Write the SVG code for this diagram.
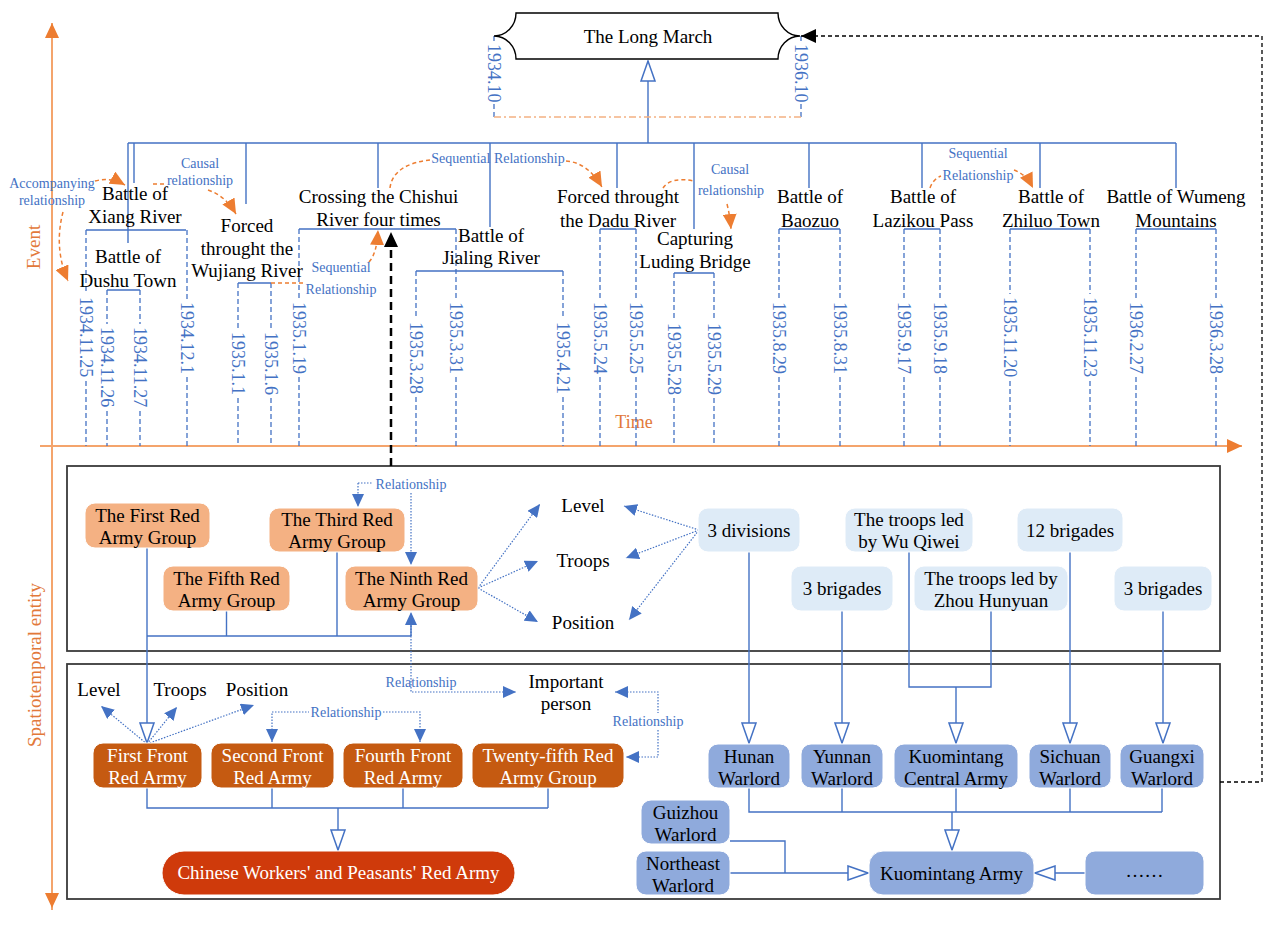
<svg xmlns="http://www.w3.org/2000/svg" width="1264" height="925" viewBox="0 0 1264 925">
<defs>
<style>
text{font-family:"Liberation Serif","Times New Roman",serif}
.ev{font-size:19px;fill:#000;text-anchor:middle}
.rl{font-size:14px;fill:#4472C4;text-anchor:middle}
.dt{font-size:18px;fill:#4472C4;dominant-baseline:central}
.ax{font-size:19px;fill:#E2793A;text-anchor:middle}
.bt{font-size:19px;fill:#000;text-anchor:middle}
.wt{font-size:19px;fill:#fff;text-anchor:middle}
.sl{fill:none;stroke:#4472C4;stroke-width:1.4}
.dl{fill:none;stroke:#4472C4;stroke-width:1.3;stroke-dasharray:5 3}
.dot{fill:none;stroke:#4472C4;stroke-width:1.2;stroke-dasharray:1.5 1.5}
.od{fill:none;stroke:#ED7D31;stroke-width:1.5;stroke-dasharray:4 3}
.bk{fill:none;stroke:#000;stroke-width:1.3;stroke-dasharray:4 3}
.pan{fill:none;stroke:#3a3a3a;stroke-width:1.8}
.o1{fill:#F4B183;stroke:#fff;stroke-width:1}
.lb{fill:#DEEBF7;stroke:#fff;stroke-width:1}
.rd{fill:#C55A11;stroke:#fff;stroke-width:1}
.wl{fill:#8FAADC;stroke:#fff;stroke-width:1}
</style>
<marker id="mo" markerUnits="userSpaceOnUse" viewBox="0 0 15 14" markerWidth="15" markerHeight="14" refX="15" refY="7" orient="auto"><path d="M0,0 L15,7 L0,14 Z" fill="#ED7D31"/></marker>
<marker id="mb" markerUnits="userSpaceOnUse" viewBox="0 0 13 12" markerWidth="13" markerHeight="12" refX="13" refY="6" orient="auto-start-reverse"><path d="M0,0 L13,6 L0,12 Z" fill="#4472C4"/></marker>
<marker id="mh" markerUnits="userSpaceOnUse" viewBox="0 0 22 16" markerWidth="22" markerHeight="16" refX="21" refY="8" orient="auto"><path d="M1,1 L21,8 L1,15 Z" fill="#fff" stroke="#4472C4" stroke-width="1.5"/></marker>
<marker id="mk" markerUnits="userSpaceOnUse" viewBox="0 0 15 14" markerWidth="15" markerHeight="14" refX="15" refY="7" orient="auto"><path d="M0,0 L15,7 L0,14 Z" fill="#000"/></marker>
<marker id="ma" markerUnits="userSpaceOnUse" viewBox="0 0 15 14" markerWidth="15" markerHeight="14" refX="15" refY="7" orient="auto"><path d="M0,0 L15,7 L0,14 Z" fill="#ED7D31"/></marker>
</defs>
<rect width="1264" height="925" fill="#fff"/>

<!-- axes -->
<g id="axes">
<path d="M52,910 V23" stroke="#F4A46C" stroke-width="2" fill="none" marker-end="url(#ma)"/>
<path d="M52,440 V908" stroke="#F4A46C" stroke-width="2" fill="none" marker-end="url(#ma)"/>
<path d="M40,446 H1242" stroke="#F4A46C" stroke-width="2" fill="none" marker-end="url(#ma)"/>
<text class="ax" transform="translate(33,247) rotate(-90)" dominant-baseline="central">Event</text>
<text class="ax" transform="translate(34,665) rotate(-90)" dominant-baseline="central">Spatiotemporal entity</text>
<text class="ax" x="634" y="428" style="font-size:18px">Time</text>
</g>

<!-- panels -->
<rect class="pan" x="67" y="466" width="1153" height="185"/>
<rect class="pan" x="67" y="664" width="1153" height="235"/>

<!-- connectors -->
<g id="connectors">
<!-- event tree -->
<path class="sl" d="M128,143 H1176 M128,143 V243 M134,143 V183 M246,143 V204 M378,143 V188 M490,143 V227 M617,143 V188 M694,143 V229 M809,143 V188 M922,143 V188 M1040,143 V188 M1176,143 V188"/>
<path class="sl" d="M648,143 V61" stroke-width="1.8" marker-end="url(#mh)"/>
<!-- brackets -->
<path class="sl" d="M86,230 H186 M107,290 H140 M238,283 H271 M299,229 H456 M416,271 H563 M600,229 H636 M674,273 H714 M779,229 H840 M904,229 H940 M1010,229 H1090 M1136,229 H1216"/>
<!-- date dashed lines -->
<path class="dl" d="M86,230 V294 M86,381 V446 M107,290 V324 M107,411 V446 M140,290 V324 M140,411 V446 M187,230 V299 M187,377 V446 M238,283 V329 M238,398 V446 M271,283 V329 M271,398 V446 M299,229 V299 M299,377 V446 M416,271 V319 M416,397 V446 M456,229 V299 M456,377 V446 M563,271 V319 M563,397 V446 M600,229 V299 M600,377 V446 M636,229 V299 M636,377 V446 M674,273 V320 M674,398 V446 M714,273 V320 M714,398 V446 M779,229 V299 M779,377 V446 M840,229 V299 M840,377 V446 M904,229 V299 M904,377 V446 M940,229 V299 M940,377 V446 M1010,229 V294 M1010,381 V446 M1090,229 V294 M1090,381 V446 M1136,229 V299 M1136,377 V446 M1216,229 V299 M1216,377 V446"/>
<path class="dl" d="M494,36 V43 M494,104 V117 M801,36 V43 M801,104 V117"/>
<path d="M494,117 H801" fill="none" stroke="#F4B183" stroke-width="1.5" stroke-dasharray="7 3 2 3"/>
<!-- orange relationship arrows -->
<path class="od" d="M95,181 C106,178 116,180 125,185" marker-end="url(#mo)"/>
<path class="od" d="M63,212 C57,235 58,258 68,281" marker-end="url(#mo)"/>
<path class="od" d="M153,184 H166"/>
<path class="od" d="M208,190 C220,194 229,202 236,214" marker-end="url(#mo)"/>
<path class="od" d="M271,283 H303"/>
<path class="od" d="M369,262 C375,255 377,246 378,230" marker-end="url(#mo)"/>
<path class="od" d="M390,188 C392,170 410,162 430,160"/>
<path class="od" d="M566,161 C580,162 592,170 602,187" marker-end="url(#mo)"/>
<path class="od" d="M663,188 C668,180 680,178 694,181"/>
<path class="od" d="M727,204 C729,212 730,218 731,229" marker-end="url(#mo)"/>
<path class="od" d="M930,188 C932,182 936,178 941,176"/>
<path class="od" d="M1014,170 C1022,173 1028,178 1033,188" marker-end="url(#mo)"/>
<!-- black dashed -->
<path d="M391,466 V232" fill="none" stroke="#000" stroke-width="2.5" stroke-dasharray="8 5" marker-end="url(#mk)"/>
<path class="bk" d="M1220,782 H1262 V36 H801" marker-end="url(#mk)"/>
<!-- panel 1 solid -->
<path class="sl" d="M147,636 H411 M226.5,611 V636 M337,552 V636 M411,636 V624"/>
<path class="sl" d="M147,548 V743" stroke-width="1.8" marker-end="url(#mh)"/>
<!-- panel 1 dotted -->
<path class="dot" d="M358,483 H373"/>
<path class="dot" d="M358,483 V507" marker-end="url(#mb)"/>
<path class="dot" d="M411,493 V565" marker-end="url(#mb)"/>
<path class="dot" d="M411,636 V612" marker-end="url(#mb)"/>
<path class="dot" d="M411,636 V692 H516" marker-end="url(#mb)"/>
<path class="dot" d="M478,588 L540,504" marker-end="url(#mb)"/>
<path class="dot" d="M478,588 L538,561" marker-end="url(#mb)"/>
<path class="dot" d="M478,588 L538,622" marker-end="url(#mb)"/>
<path class="dot" d="M699,530 L624,506" marker-end="url(#mb)"/>
<path class="dot" d="M699,530 L626,558" marker-end="url(#mb)"/>
<path class="dot" d="M699,530 L629,620" marker-end="url(#mb)"/>
<!-- light blue to warlords -->
<path class="sl" d="M749,552 V743" marker-end="url(#mh)"/>
<path class="sl" d="M842,611 V743" marker-end="url(#mh)"/>
<path class="sl" d="M909,552 V687 H991 V611 M956,687 V743" marker-end="url(#mh)"/>
<path class="sl" d="M1070,552 V743" marker-end="url(#mh)"/>
<path class="sl" d="M1163,611 V743" marker-end="url(#mh)"/>
<!-- warlord tree -->
<path class="sl" d="M749,788 V812 H1162 M842,788 V812 M956,788 V812 M1070,788 V812 M1162,788 V812"/>
<path class="sl" d="M952,812 V850" stroke-width="1.8" marker-end="url(#mh)"/>
<path class="sl" d="M730,841 H785 V873 M730,873 H868" marker-end="url(#mh)"/>
<path class="sl" d="M1085,873 H1035" marker-end="url(#mh)"/>
<!-- red tree -->
<path class="sl" d="M147,788 V808 H548 M272,788 V808 M403,788 V808 M548,788 V808"/>
<path class="sl" d="M338,808 V850" stroke-width="1.8" marker-end="url(#mh)"/>
<!-- panel 2 dotted -->
<path class="dot" d="M147,744 L101,706" marker-end="url(#mb)"/>
<path class="dot" d="M147,744 L177,707" marker-end="url(#mb)"/>
<path class="dot" d="M147,744 L254,705" marker-end="url(#mb)"/>
<path class="dot" d="M272,742 V712 H309" marker-start="url(#mb)"/>
<path class="dot" d="M383,712 H420 V742" marker-end="url(#mb)"/>
<path class="dot" d="M615,692 H658 V713" marker-start="url(#mb)"/>
<path class="dot" d="M658,730 V757 H626" marker-end="url(#mb)"/>
</g>

<!-- relationship labels -->
<g id="rel-labels">
<text class="rl"><tspan x="52" y="188">Accompanying</tspan><tspan x="52" y="205">relationship</tspan></text>
<text class="rl"><tspan x="200" y="168">Causal</tspan><tspan x="200" y="185">relationship</tspan></text>
<text class="rl" x="498" y="163">Sequential Relationship</text>
<text class="rl"><tspan x="341" y="272">Sequential</tspan><tspan x="341" y="294">Relationship</tspan></text>
<text class="rl"><tspan x="730" y="174">Causal</tspan><tspan x="731" y="195">relationship</tspan></text>
<text class="rl"><tspan x="978" y="158">Sequential</tspan><tspan x="978" y="180">Relationship</tspan></text>
<text class="rl" x="411" y="489">Relationship</text>
<text class="rl" x="421" y="687">Relationship</text>
<text class="rl" x="346" y="717">Relationship</text>
<text class="rl" x="648" y="726">Relationship</text>
</g>

<!-- dates -->
<g id="dates">
<text class="dt" transform="translate(494,44) rotate(90)">1934.10</text>
<text class="dt" transform="translate(801,44) rotate(90)">1936.10</text>
<text class="dt" transform="translate(86,297) rotate(90)">1934.11.25</text>
<text class="dt" transform="translate(107,327) rotate(90)">1934.11.26</text>
<text class="dt" transform="translate(140,327) rotate(90)">1934.11.27</text>
<text class="dt" transform="translate(187,302) rotate(90)">1934.12.1</text>
<text class="dt" transform="translate(238,332) rotate(90)">1935.1.1</text>
<text class="dt" transform="translate(271,332) rotate(90)">1935.1.6</text>
<text class="dt" transform="translate(299,302) rotate(90)">1935.1.19</text>
<text class="dt" transform="translate(416,322) rotate(90)">1935.3.28</text>
<text class="dt" transform="translate(456,302) rotate(90)">1935.3.31</text>
<text class="dt" transform="translate(563,322) rotate(90)">1935.4.21</text>
<text class="dt" transform="translate(600,302) rotate(90)">1935.5.24</text>
<text class="dt" transform="translate(636,302) rotate(90)">1935.5.25</text>
<text class="dt" transform="translate(674,323) rotate(90)">1935.5.28</text>
<text class="dt" transform="translate(714,323) rotate(90)">1935.5.29</text>
<text class="dt" transform="translate(779,302) rotate(90)">1935.8.29</text>
<text class="dt" transform="translate(840,302) rotate(90)">1935.8.31</text>
<text class="dt" transform="translate(904,302) rotate(90)">1935.9.17</text>
<text class="dt" transform="translate(940,302) rotate(90)">1935.9.18</text>
<text class="dt" transform="translate(1010,297) rotate(90)">1935.11.20</text>
<text class="dt" transform="translate(1090,297) rotate(90)">1935.11.23</text>
<text class="dt" transform="translate(1136,302) rotate(90)">1936.2.27</text>
<text class="dt" transform="translate(1216,302) rotate(90)">1936.3.28</text>
</g>

<!-- event nodes -->
<g id="long-march">
<path d="M516,13 H778 A22,23 0 0 0 800,36 A22,23 0 0 0 778,59 H516 A22,23 0 0 0 494,36 A22,23 0 0 0 516,13 Z" fill="#fff" stroke="#000" stroke-width="1.4"/>
<text class="ev" x="648" y="43">The Long March</text>
</g>
<g id="ev-xiang"><text class="ev"><tspan x="135" y="200">Battle of</tspan><tspan x="135" y="223">Xiang River</tspan></text></g>
<g id="ev-dushu"><text class="ev"><tspan x="128" y="263">Battle of</tspan><tspan x="128" y="287">Dushu Town</tspan></text></g>
<g id="ev-wujiang"><text class="ev"><tspan x="247" y="232">Forced</tspan><tspan x="247" y="255">throught the</tspan><tspan x="247" y="277">Wujiang River</tspan></text></g>
<g id="ev-chishui"><text class="ev"><tspan x="378.5" y="203">Crossing the Chishui</tspan><tspan x="378.5" y="226">River four times</tspan></text></g>
<g id="ev-jialing"><text class="ev"><tspan x="491" y="242">Battle of</tspan><tspan x="491" y="264">Jialing River</tspan></text></g>
<g id="ev-dadu"><text class="ev"><tspan x="618" y="203">Forced throught</tspan><tspan x="618" y="227">the Dadu River</tspan></text></g>
<g id="ev-luding"><text class="ev"><tspan x="695" y="245">Capturing</tspan><tspan x="695" y="268">Luding Bridge</tspan></text></g>
<g id="ev-baozuo"><text class="ev"><tspan x="810" y="203">Battle of</tspan><tspan x="810" y="227">Baozuo</tspan></text></g>
<g id="ev-lazikou"><text class="ev"><tspan x="923" y="203">Battle of</tspan><tspan x="923" y="227">Lazikou Pass</tspan></text></g>
<g id="ev-zhiluo"><text class="ev"><tspan x="1051" y="203">Battle of</tspan><tspan x="1051" y="227">Zhiluo Town</tspan></text></g>
<g id="ev-wumeng"><text class="ev"><tspan x="1176" y="203">Battle of Wumeng</tspan><tspan x="1176" y="227">Mountains</tspan></text></g>

<!-- panel 1 nodes -->
<g id="first-red"><rect class="o1" x="85" y="503" width="125" height="45" rx="10"/><text class="bt"><tspan x="147.5" y="521.5">The First Red</tspan><tspan x="147.5" y="543.5">Army Group</tspan></text></g>
<g id="third-red"><rect class="o1" x="269" y="508" width="136" height="44" rx="10"/><text class="bt"><tspan x="337" y="526">The Third Red</tspan><tspan x="337" y="548">Army Group</tspan></text></g>
<g id="fifth-red"><rect class="o1" x="163" y="566" width="127" height="45" rx="10"/><text class="bt"><tspan x="226.5" y="584.5">The Fifth Red</tspan><tspan x="226.5" y="606.5">Army Group</tspan></text></g>
<g id="ninth-red"><rect class="o1" x="345" y="566" width="133" height="45" rx="10"/><text class="bt"><tspan x="411.5" y="584.5">The Ninth Red</tspan><tspan x="411.5" y="606.5">Army Group</tspan></text></g>
<g id="p1-level"><text class="bt" x="583" y="512">Level</text></g>
<g id="p1-troops"><text class="bt" x="583" y="567">Troops</text></g>
<g id="p1-position"><text class="bt" x="583" y="629">Position</text></g>
<g id="div3"><rect class="lb" x="698" y="508" width="102" height="44" rx="10"/><text class="bt" x="749" y="536.5">3 divisions</text></g>
<g id="wuqiwei"><rect class="lb" x="845" y="508" width="128" height="44" rx="10"/><text class="bt"><tspan x="909" y="526">The troops led</tspan><tspan x="909" y="548">by Wu Qiwei</tspan></text></g>
<g id="brig12"><rect class="lb" x="1017" y="508" width="106" height="44" rx="10"/><text class="bt" x="1070" y="536.5">12 brigades</text></g>
<g id="brig3a"><rect class="lb" x="791" y="566" width="102" height="45" rx="10"/><text class="bt" x="842" y="595">3 brigades</text></g>
<g id="zhou"><rect class="lb" x="914" y="566" width="154" height="45" rx="10"/><text class="bt"><tspan x="991" y="584.5">The troops led by</tspan><tspan x="991" y="606.5">Zhou Hunyuan</tspan></text></g>
<g id="brig3b"><rect class="lb" x="1114" y="566" width="98" height="45" rx="10"/><text class="bt" x="1163" y="595">3 brigades</text></g>

<!-- panel 2 nodes -->
<g id="p2-level"><text class="bt" x="99" y="696">Level</text></g>
<g id="p2-troops"><text class="bt" x="180" y="696">Troops</text></g>
<g id="p2-position"><text class="bt" x="257" y="696">Position</text></g>
<g id="important"><text class="bt"><tspan x="566" y="688">Important</tspan><tspan x="566" y="710">person</tspan></text></g>
<g id="first-front"><rect class="rd" x="93" y="743" width="109" height="45" rx="10"/><text class="wt"><tspan x="147.5" y="761.5">First Front</tspan><tspan x="147.5" y="783.5">Red Army</tspan></text></g>
<g id="second-front"><rect class="rd" x="211" y="743" width="123" height="45" rx="10"/><text class="wt"><tspan x="272.5" y="761.5">Second Front</tspan><tspan x="272.5" y="783.5">Red Army</tspan></text></g>
<g id="fourth-front"><rect class="rd" x="343" y="743" width="120" height="45" rx="10"/><text class="wt"><tspan x="403" y="761.5">Fourth Front</tspan><tspan x="403" y="783.5">Red Army</tspan></text></g>
<g id="twentyfifth"><rect class="rd" x="472" y="743" width="152" height="45" rx="10"/><text class="wt"><tspan x="548" y="761.5">Twenty-fifth Red</tspan><tspan x="548" y="783.5">Army Group</tspan></text></g>
<g id="red-army"><rect x="162" y="851" width="353" height="44" rx="22" fill="#CF3A0B" stroke="#fff"/><text class="wt" x="338.5" y="879">Chinese Workers' and Peasants' Red Army</text></g>
<g id="hunan"><rect class="wl" x="708" y="744" width="82" height="44" rx="10"/><text class="bt"><tspan x="749" y="762.5">Hunan</tspan><tspan x="749" y="784.5">Warlord</tspan></text></g>
<g id="yunnan"><rect class="wl" x="801" y="744" width="82" height="44" rx="10"/><text class="bt"><tspan x="842" y="762.5">Yunnan</tspan><tspan x="842" y="784.5">Warlord</tspan></text></g>
<g id="kmt-central"><rect class="wl" x="894" y="744" width="124" height="44" rx="10"/><text class="bt"><tspan x="956" y="762.5">Kuomintang</tspan><tspan x="956" y="784.5">Central Army</tspan></text></g>
<g id="sichuan"><rect class="wl" x="1029" y="744" width="82" height="44" rx="10"/><text class="bt"><tspan x="1070" y="762.5">Sichuan</tspan><tspan x="1070" y="784.5">Warlord</tspan></text></g>
<g id="guangxi"><rect class="wl" x="1120" y="744" width="84" height="44" rx="10"/><text class="bt"><tspan x="1162" y="762.5">Guangxi</tspan><tspan x="1162" y="784.5">Warlord</tspan></text></g>
<g id="guizhou"><rect class="wl" x="641" y="800" width="89" height="44" rx="10"/><text class="bt"><tspan x="685.5" y="818.5">Guizhou</tspan><tspan x="685.5" y="840.5">Warlord</tspan></text></g>
<g id="northeast"><rect class="wl" x="636" y="851" width="94" height="44" rx="10"/><text class="bt"><tspan x="683" y="869.5">Northeast</tspan><tspan x="683" y="891.5">Warlord</tspan></text></g>
<g id="kmt-army"><rect class="wl" x="869" y="851" width="165" height="44" rx="14"/><text class="bt" x="951.5" y="879.5">Kuomintang Army</text></g>
<g id="others"><rect class="wl" x="1085" y="851" width="119" height="44" rx="10"/><text class="bt" x="1144.5" y="877">……</text></g>
</svg>
